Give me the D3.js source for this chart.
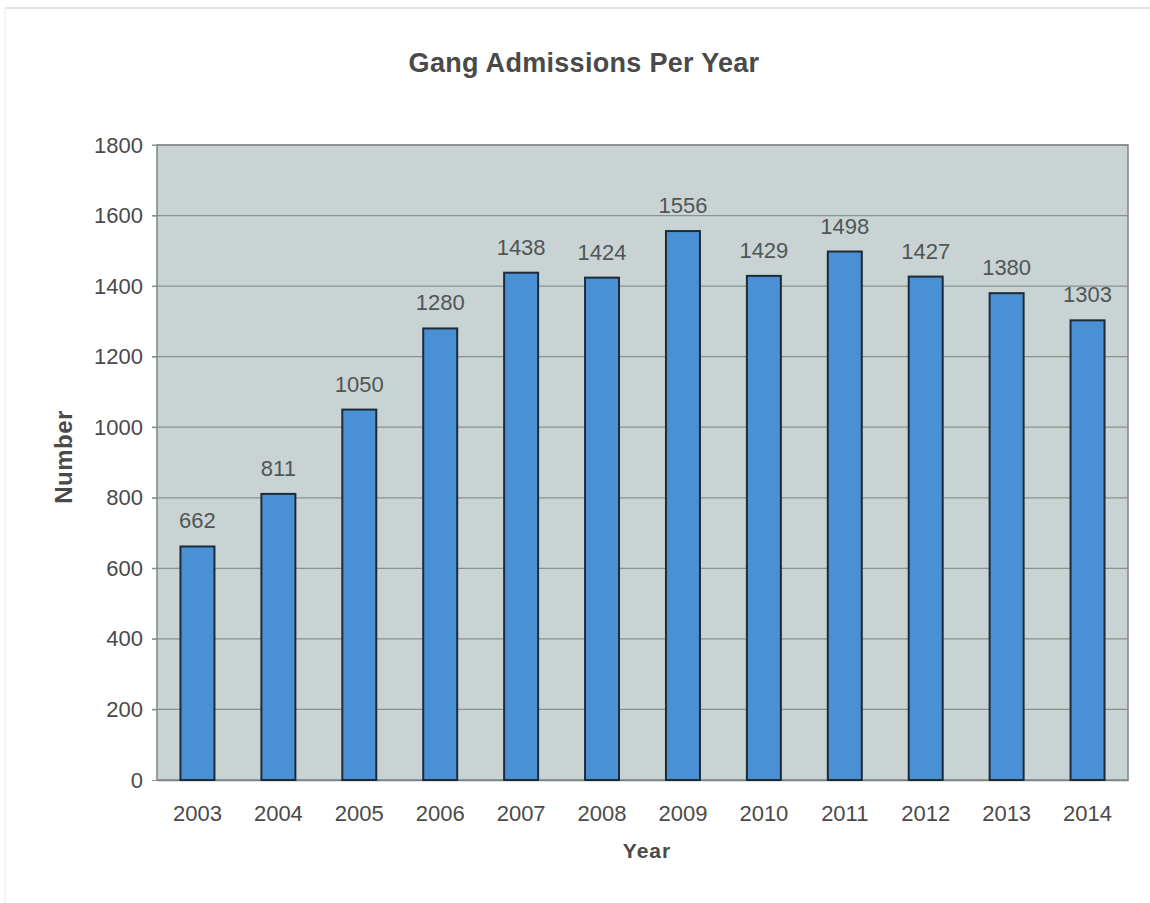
<!DOCTYPE html>
<html><head><meta charset="utf-8">
<script src="https://cdn.jsdelivr.net/npm/d3@7"></script>
<style>body{margin:0;background:#fff;}svg{display:block;font-family:"Liberation Sans",Arial,sans-serif;}</style>
</head><body>
<svg id="chart" width="1150" height="903"></svg>
<script>
const years = ["2003","2004","2005","2006","2007","2008","2009","2010","2011","2012","2013","2014"];
const admissions = [662, 811, 1050, 1280, 1438, 1424, 1556, 1429, 1498, 1427, 1380, 1303];
const yTicks = [0, 200, 400, 600, 800, 1000, 1200, 1400, 1600, 1800];
const title = "Gang Admissions Per Year";
const xTitle = "Year";
const yTitle = "Number";

const svg = d3.select("#chart");
const m = {left:157, right:1128, top:145, bottom:780};
const FONT = "Liberation Sans, Arial, sans-serif";

// faint page border
svg.append("line").attr("x1",5).attr("x2",1150).attr("y1",8).attr("y2",8).attr("stroke","#e4e4e4").attr("stroke-width",2);
svg.append("line").attr("x1",5).attr("x2",5).attr("y1",8).attr("y2",903).attr("stroke","#f0f0f0").attr("stroke-width",1.5);

const x = d3.scaleBand().domain(years).range([m.left, m.right]).paddingInner(0.58).paddingOuter(0.29);
const y = d3.scaleLinear().domain([0,1800]).range([m.bottom, m.top]);

svg.append("rect").attr("x",m.left).attr("y",m.top).attr("width",m.right-m.left).attr("height",m.bottom-m.top)
  .attr("fill","#c9d3d3");

// gridlines
svg.append("g").selectAll("line").data(yTicks.filter(d=>d>0)).join("line")
  .attr("x1",m.left-5).attr("x2",m.right).attr("y1",d=>y(d)).attr("y2",d=>y(d))
  .attr("stroke","#8a9090").attr("stroke-width",1.2);

// plot border
svg.append("rect").attr("x",m.left).attr("y",m.top).attr("width",m.right-m.left).attr("height",m.bottom-m.top)
  .attr("fill","none").attr("stroke","#7d8484").attr("stroke-width",1.5);

// y axis
const yAxis = svg.append("g").attr("transform",`translate(${m.left},0)`)
  .call(d3.axisLeft(y).tickValues(yTicks).tickFormat(d3.format("d")).tickSize(5).tickPadding(9));
yAxis.select(".domain").remove();
yAxis.selectAll("line").attr("stroke","#8a9090");
yAxis.selectAll("text").attr("font-size",22).attr("fill","#4a4a4a").attr("font-family",FONT);

// x axis
const xAxis = svg.append("g").attr("transform",`translate(0,${m.bottom})`)
  .call(d3.axisBottom(x).tickSize(0).tickPadding(25));
xAxis.select(".domain").attr("stroke","#7d8484").attr("stroke-width",1.5);
xAxis.selectAll("text").attr("font-size",22).attr("fill","#4a4a4a").attr("font-family",FONT);

// bars
svg.append("g").selectAll("rect").data(years).join("rect")
  .attr("x",d=>x(d)).attr("width",x.bandwidth())
  .attr("y",(d,i)=>y(admissions[i])).attr("height",(d,i)=>y(0)-y(admissions[i]))
  .attr("fill","#4a90d4").attr("stroke","#1d2b38").attr("stroke-width",2);

// value labels
svg.append("g").selectAll("text").data(years).join("text")
  .attr("x",d=>x(d)+x.bandwidth()/2).attr("y",(d,i)=>y(admissions[i])-18)
  .attr("text-anchor","middle").attr("font-size",22).attr("fill","#505656").attr("font-family",FONT)
  .text((d,i)=>admissions[i]);

// titles
svg.append("text").attr("x",584).attr("y",72).attr("text-anchor","middle")
  .attr("font-size",27).attr("font-weight","bold").attr("fill","#4a4a4a").attr("letter-spacing",0.3).text(title);
svg.append("text").attr("x",647).attr("y",858).attr("text-anchor","middle")
  .attr("font-size",21).attr("font-weight","bold").attr("fill","#4a4a4a").attr("letter-spacing",1).text(xTitle);
svg.append("text").attr("transform","translate(72,457) rotate(-90)").attr("text-anchor","middle")
  .attr("font-size",24).attr("font-weight","bold").attr("fill","#4a4a4a").attr("letter-spacing",0.5).text(yTitle);
</script>
</body></html>
